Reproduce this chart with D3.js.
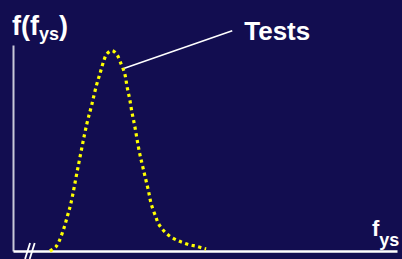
<!DOCTYPE html>
<html><head><meta charset="utf-8">
<script src="https://cdn.jsdelivr.net/npm/d3@7"></script>
<style>html,body{margin:0;padding:0;background:#120d50;overflow:hidden;} svg{display:block;}</style>
</head><body>
<svg id="c" width="402" height="259"></svg>
<script>
// Data (arbitrary units: x = yield strength f_ys, y = probability density f(f_ys))
const fys =     [9.6, 11.1, 12.0, 13.2, 14.2, 15.1, 16.9, 19.2, 20.5, 21.7, 22.7, 23.7, 24.4, 25.8, 27.1, 27.9, 29.1, 29.7, 30.4, 31.0, 31.7, 32.9, 33.7, 34.5, 35.3, 36.0, 37.2, 37.8, 38.8, 40.0, 41.4, 43.0, 44.5, 46.2, 47.8, 49.6, 50.3];
const density = [0.0,  1.9,  4.7, 10.7, 17.1, 23.3, 40.4, 61.5, 70.9, 80.2, 86.4, 92.7, 95.6, 97.3, 95.2, 91.9, 86.1, 79.8, 73.6, 67.1, 60.7, 48.1, 41.6, 35.3, 29.0, 22.8, 16.5, 13.6, 10.8,  8.4,  6.5,  5.0,  3.9,  2.9,  2.3,  1.3,  1.0];
const seriesLabel = "Tests";
const annotationAnchor = [29.0, 88.7];
const annotationEnd = [57.1, 106.9];
const yLabelParts = ["f(f", "ys", ")"];
const xLabelParts = ["f", "ys"];

const svg = d3.select("#c");
const x = d3.scaleLinear().domain([0, 100]).range([13, 397]);
const y = d3.scaleLinear().domain([0, 100]).range([251, 45]);

// Y axis (no ticks)
const gy = svg.append("g").attr("transform", `translate(${x(0)},0)`)
  .call(d3.axisLeft(y).tickValues([]).tickSizeOuter(0));
gy.select(".domain").attr("stroke", "#c8c8d8").attr("stroke-width", 2);

// X axis (no ticks)
const gx = svg.append("g").attr("transform", `translate(0,${y(0)})`)
  .call(d3.axisBottom(x).tickValues([]).tickSizeOuter(0));
gx.select(".domain").attr("stroke", "#ffffff").attr("stroke-width", 2.5);

// Axis break marks
const bx = x(3.8), by = y(0);
[0, 4.6].forEach(off => {
  svg.append("line")
    .attr("x1", bx + off + 2.5).attr("y1", by - 8)
    .attr("x2", bx + off - 2.5).attr("y2", by + 8)
    .attr("stroke", "#ffffff").attr("stroke-width", 1.8);
});

// Distribution curve (dotted yellow)
const pts = fys.map((v, i) => [v, density[i]]);
const line = d3.line().x(d => x(d[0])).y(d => y(d[1])).curve(d3.curveCatmullRom.alpha(0.5));
svg.append("path").attr("d", line(pts))
  .attr("fill", "none").attr("stroke", "#ffff00")
  .attr("stroke-width", 3.2).attr("stroke-dasharray", "3.2,3.5");

// Annotation leader
svg.append("line")
  .attr("x1", x(annotationAnchor[0])).attr("y1", y(annotationAnchor[1]))
  .attr("x2", x(annotationEnd[0])).attr("y2", y(annotationEnd[1]))
  .attr("stroke", "#ffffff").attr("stroke-width", 1.5);
svg.append("text").attr("x", x(annotationEnd[0]) + 12).attr("y", 40)
  .attr("font-family", "Arial, 'Liberation Sans', sans-serif").attr("font-weight", "bold")
  .attr("font-size", 26).attr("fill", "#ffffff").text(seriesLabel);

// Y label f(f_ys)
const yl = svg.append("text").attr("x", 12).attr("y", 35)
  .attr("font-family", "Arial, 'Liberation Sans', sans-serif").attr("font-weight", "bold")
  .attr("font-size", 27).attr("fill", "#ffffff");
yl.append("tspan").text(yLabelParts[0]);
yl.append("tspan").attr("font-size", 18).attr("dy", 5).text(yLabelParts[1]);
yl.append("tspan").attr("dy", -5).text(yLabelParts[2]);

// X label f_ys
const xl = svg.append("text").attr("x", 372).attr("y", 236)
  .attr("font-family", "Arial, 'Liberation Sans', sans-serif").attr("font-weight", "bold")
  .attr("font-size", 22).attr("fill", "#ffffff");
xl.append("tspan").text(xLabelParts[0]);
xl.append("tspan").attr("font-size", 18).attr("dy", 10).text(xLabelParts[1]);
</script>
</body></html>
